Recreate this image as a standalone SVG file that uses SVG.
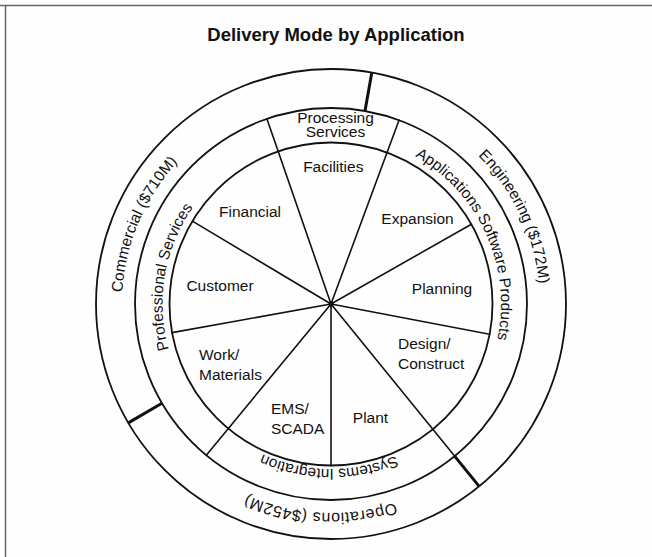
<svg xmlns="http://www.w3.org/2000/svg" xmlns:xlink="http://www.w3.org/1999/xlink" width="652" height="557" viewBox="0 0 652 557">
  <style>
    .ring { fill: none; stroke: #111; stroke-width: 1.8; }
    .spoke { stroke: #111; stroke-width: 1.6; stroke-linecap: round; }
    .divider { stroke: #111; stroke-width: 3; stroke-linecap: butt; }
    .lbl { font-family: "Liberation Sans", Arial, sans-serif; font-size: 15.5px; fill: #111; }
    .mid { text-anchor: middle; }
    .title { font-family: "Liberation Sans", Arial, sans-serif; font-size: 18.5px; font-weight: bold; fill: #111; text-anchor: middle; }
  </style>
  <defs>
    <!-- clockwise half-circle arcs centred on the top of the wheel, used as text baselines -->
    <path id="arc209" d="M122,304 A209,209 0 0 1 540,304"/>
    <path id="arc170" d="M161,304 A170,170 0 0 1 501,304"/>
    <path id="arc168" d="M162.5,304 A168.5,168.5 0 0 1 499.5,304"/>
    <path id="arc165" d="M166,304 A165,165 0 0 1 496,304"/>
  </defs>

  <rect width="652" height="557" fill="#fefefe"/>
  <!-- frame edges -->
  <path d="M0,5.5 H652 M5.5,5.5 V557" fill="none" stroke="#666" stroke-width="1.5"/>

  <text class="title" x="336" y="41">Delivery Mode by Application</text>

  <!-- wheel rings -->
  <g id="rings">
    <circle class="ring" cx="331" cy="304" r="235"/>
    <circle class="ring" cx="331" cy="304" r="196"/>
    <circle class="ring" cx="331" cy="304" r="161.5"/>
  </g>

  <!-- spokes and segment dividers -->
  <g id="connectors">
    <line class="spoke" x1="331" y1="304" x2="266.9" y2="118.8"/>
    <line class="spoke" x1="331" y1="304" x2="399.0" y2="120.2"/>
    <line class="spoke" x1="331" y1="304" x2="471.4" y2="224.2"/>
    <line class="spoke" x1="331" y1="304" x2="489.6" y2="334.3"/>
    <line class="spoke" x1="331" y1="304" x2="454.6" y2="456.1"/>
    <line class="spoke" x1="331" y1="304" x2="331" y2="465.5"/>
    <line class="spoke" x1="331" y1="304" x2="206.3" y2="455.2"/>
    <line class="spoke" x1="331" y1="304" x2="172.1" y2="332.6"/>
    <line class="spoke" x1="331" y1="304" x2="192.4" y2="221.1"/>
    <line class="divider" x1="365.0" y1="111.0" x2="371.8" y2="72.6"/>
    <line class="divider" x1="454.6" y1="456.1" x2="479.2" y2="486.4"/>
    <line class="divider" x1="161.9" y1="403.2" x2="128.3" y2="422.9"/>
    <circle cx="331" cy="304" r="2.6" fill="#111"/>
  </g>

  <!-- outer ring: markets -->
  <g id="commercial">
    <text class="lbl" transform="rotate(293 331 304)"><textPath xlink:href="#arc209" href="#arc209" startOffset="50%" text-anchor="middle">Commercial ($710M)</textPath></text>
  </g>
  <g id="engineering">
    <text class="lbl" transform="rotate(64.6 331 304)"><textPath xlink:href="#arc209" href="#arc209" startOffset="50%" text-anchor="middle">Engineering ($172M)</textPath></text>
  </g>
  <g id="operations">
    <text class="lbl" style="font-size:16px" transform="rotate(182.9 331 304)"><textPath xlink:href="#arc209" href="#arc209" startOffset="50%" text-anchor="middle" textLength="152">Operations ($452M)</textPath></text>
  </g>

  <!-- middle ring: delivery modes -->
  <g id="processing-services">
    <text class="lbl mid" x="335.5" y="123">Processing</text>
    <text class="lbl mid" x="335.5" y="137">Services</text>
  </g>
  <g id="applications-software-products">
    <text class="lbl" transform="rotate(65.8 331 304)"><textPath xlink:href="#arc170" href="#arc170" startOffset="50%" text-anchor="middle">Applications Software Products</textPath></text>
  </g>
  <g id="systems-integration">
    <text class="lbl" transform="rotate(180.7 331 304)"><textPath xlink:href="#arc165" href="#arc165" startOffset="50%" text-anchor="middle">Systems Integration</textPath></text>
  </g>
  <g id="professional-services">
    <text class="lbl" transform="rotate(279.7 331 304)"><textPath xlink:href="#arc168" href="#arc168" startOffset="50%" text-anchor="middle">Professional Services</textPath></text>
  </g>

  <!-- inner sectors: applications -->
  <g id="facilities"><text class="lbl mid" x="333.3" y="172">Facilities</text></g>
  <g id="expansion"><text class="lbl mid" x="417.5" y="224">Expansion</text></g>
  <g id="planning"><text class="lbl mid" x="442" y="293.5">Planning</text></g>
  <g id="design-construct">
    <text class="lbl" x="398" y="348.5">Design/</text>
    <text class="lbl" x="398" y="369">Construct</text>
  </g>
  <g id="plant"><text class="lbl mid" x="370.5" y="423">Plant</text></g>
  <g id="ems-scada">
    <text class="lbl" x="271" y="414">EMS/</text>
    <text class="lbl" x="271" y="433.5">SCADA</text>
  </g>
  <g id="work-materials">
    <text class="lbl" x="199" y="360">Work/</text>
    <text class="lbl" x="199" y="380">Materials</text>
  </g>
  <g id="customer"><text class="lbl mid" x="220" y="291">Customer</text></g>
  <g id="financial"><text class="lbl mid" x="250" y="217">Financial</text></g>
</svg>
